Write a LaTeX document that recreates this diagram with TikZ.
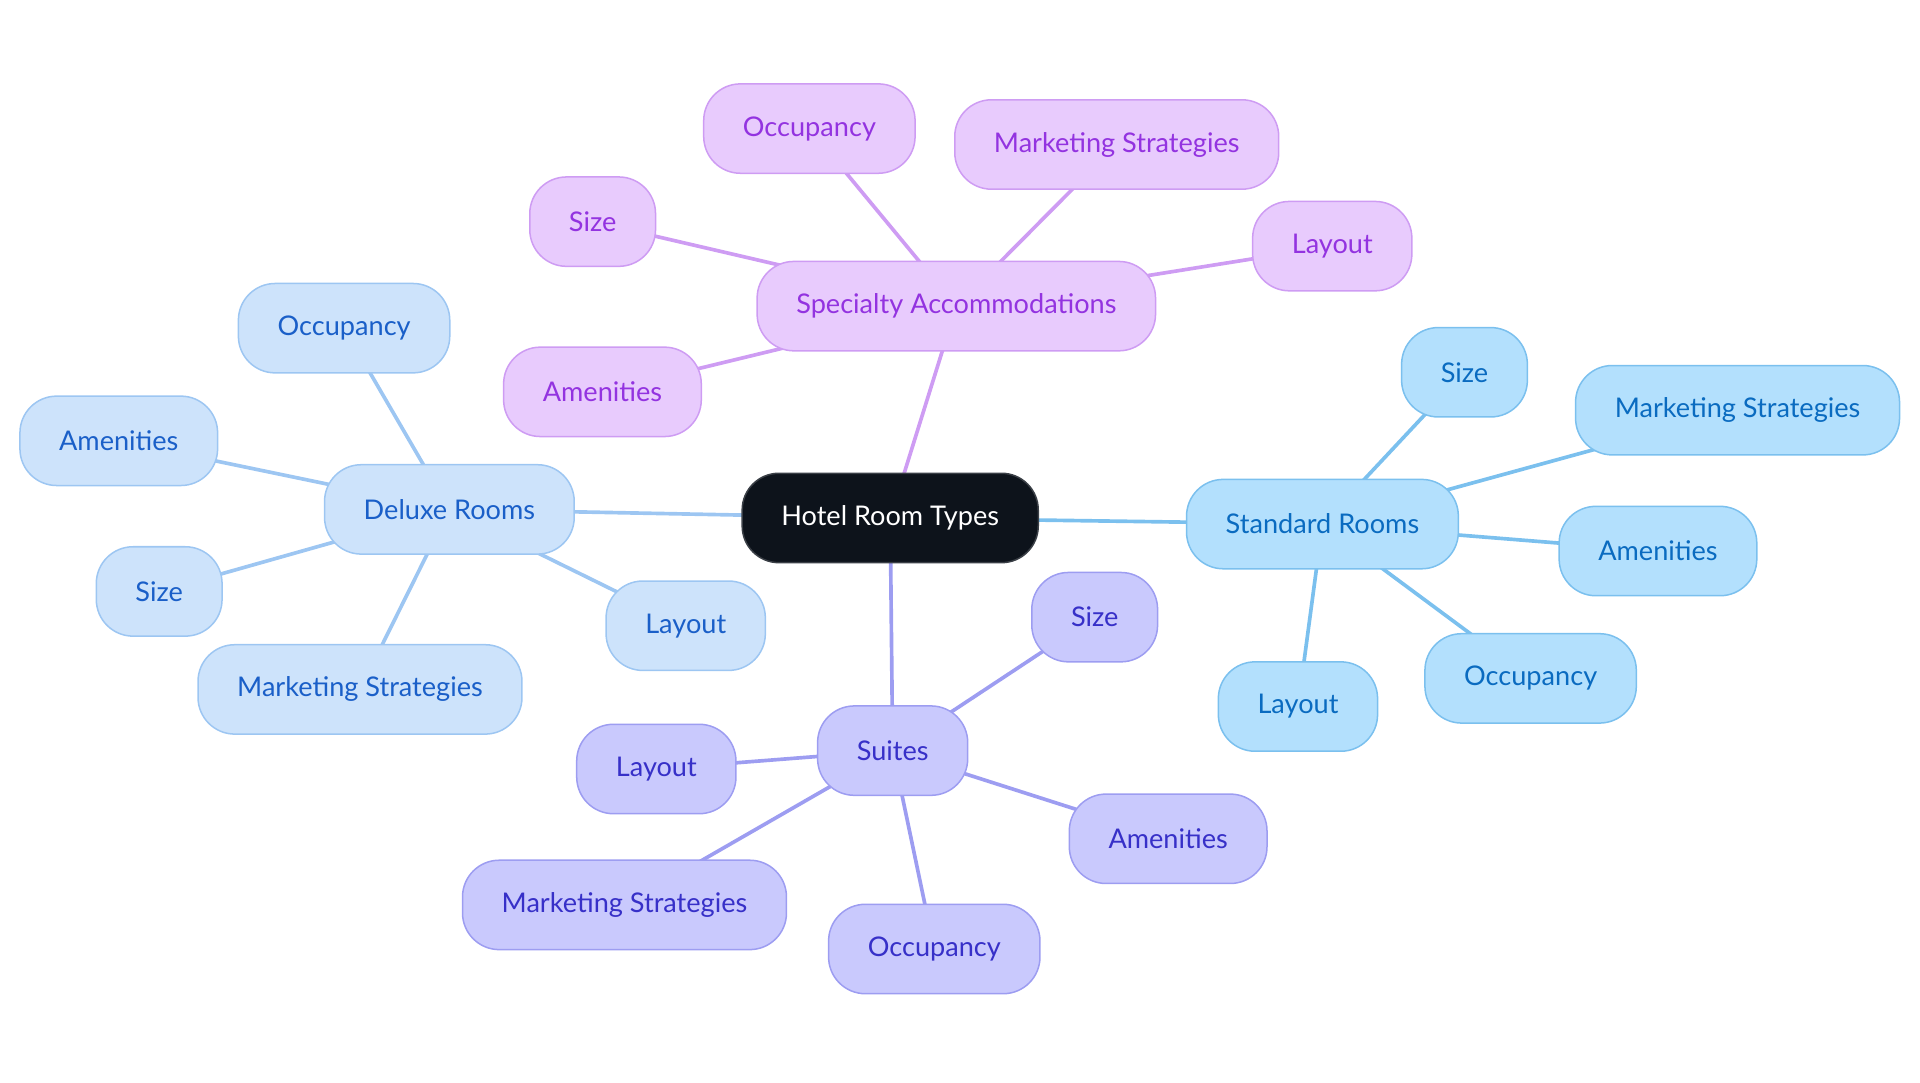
\documentclass[tikz,border=0pt]{standalone}
\usepackage{fontspec}
\setmainfont{Lato}
\usetikzlibrary{positioning}

\pgfdeclarelayer{back}
\pgfsetlayers{back,main}

\definecolor{rootFill}{HTML}{0D131B}
\definecolor{rootLine}{HTML}{3A3F46}
\definecolor{spcFill}{HTML}{E8CBFD}
\definecolor{spcLine}{HTML}{CE9CF3}
\definecolor{spcText}{HTML}{9333E0}
\definecolor{dlxFill}{HTML}{CDE3FB}
\definecolor{dlxLine}{HTML}{9DC6F2}
\definecolor{dlxText}{HTML}{1A5FC8}
\definecolor{stdFill}{HTML}{B3E0FD}
\definecolor{stdLine}{HTML}{7BC0EE}
\definecolor{stdText}{HTML}{0A6BC0}
\definecolor{steFill}{HTML}{C9C9FD}
\definecolor{steLine}{HTML}{9D9DF1}
\definecolor{steText}{HTML}{3730C8}

\tikzset{
  topic/.style={draw, rounded corners=6mm, minimum height=14.6mm, inner xsep=6.4mm,
    line width=0.7pt, font=\fontsize{12.6}{15}\selectfont},
  rootbox/.style={topic, fill=rootFill, draw=rootLine, text=white},
  spcbox/.style={topic, fill=spcFill, draw=spcLine, text=spcText},
  dlxbox/.style={topic, fill=dlxFill, draw=dlxLine, text=dlxText},
  stdbox/.style={topic, fill=stdFill, draw=stdLine, text=stdText},
  stebox/.style={topic, fill=steFill, draw=steLine, text=steText},
  spclink/.style={draw=spcLine, line width=1.7pt},
  dlxlink/.style={draw=dlxLine, line width=1.7pt},
  stdlink/.style={draw=stdLine, line width=1.7pt},
  stelink/.style={draw=steLine, line width=1.7pt},
}

\begin{document}
\begin{tikzpicture}[x=0.2mm, y=-0.2mm]
	%%%%% FRAME %%%%%
	\useasboundingbox (0, 0) rectangle (1568, 884);

	%%%%% NODES %%%%%
	\node[rootbox] (hotel) at (727, 423) {Hotel Room Types};

	\node[spcbox] (spc) at (781, 250) {Specialty Accommodations};
	\node[spcbox] (spcocc) at (661, 105) {Occupancy};
	\node[spcbox] (spcmkt) at (912, 118) {Marketing Strategies};
	\node[spcbox] (spcsize) at (484, 181) {Size};
	\node[spcbox] (spclay) at (1088, 201) {Layout};
	\node[spcbox] (spcame) at (492, 320) {Amenities};

	\node[dlxbox] (dlx) at (367, 416) {Deluxe Rooms};
	\node[dlxbox] (dlxocc) at (281, 268) {Occupancy};
	\node[dlxbox] (dlxame) at (97, 360) {Amenities};
	\node[dlxbox] (dlxsize) at (130, 483) {Size};
	\node[dlxbox] (dlxmkt) at (294, 563) {Marketing Strategies};
	\node[dlxbox] (dlxlay) at (560, 511) {Layout};

	\node[stdbox] (std) at (1080, 428) {Standard Rooms};
	\node[stdbox] (stdsize) at (1196, 304) {Size};
	\node[stdbox] (stdmkt) at (1419, 335) {Marketing Strategies};
	\node[stdbox] (stdame) at (1354, 450) {Amenities};
	\node[stdbox] (stdocc) at (1250, 554) {Occupancy};
	\node[stdbox] (stdlay) at (1060, 577) {Layout};

	\node[stebox] (ste) at (729, 613) {Suites};
	\node[stebox] (stesize) at (894, 504) {Size};
	\node[stebox] (stelay) at (536, 628) {Layout};
	\node[stebox] (steame) at (954, 685) {Amenities};
	\node[stebox] (stemkt) at (510, 739) {Marketing Strategies};
	\node[stebox] (steocc) at (763, 775) {Occupancy};

	%%%%% LINKS %%%%%
	\begin{pgfonlayer}{back}
	\draw[spclink] (hotel.center) -- (spc.center);
	\draw[spclink] (spc.center) -- (spcocc.center);
	\draw[spclink] (spc.center) -- (spcmkt.center);
	\draw[spclink] (spc.center) -- (spcsize.center);
	\draw[spclink] (spc.center) -- (spclay.center);
	\draw[spclink] (spc.center) -- (spcame.center);

	\draw[dlxlink] (hotel.center) -- (dlx.center);
	\draw[dlxlink] (dlx.center) -- (dlxocc.center);
	\draw[dlxlink] (dlx.center) -- (dlxame.center);
	\draw[dlxlink] (dlx.center) -- (dlxsize.center);
	\draw[dlxlink] (dlx.center) -- (dlxmkt.center);
	\draw[dlxlink] (dlx.center) -- (dlxlay.center);

	\draw[stdlink] (hotel.center) -- (std.center);
	\draw[stdlink] (std.center) -- (stdsize.center);
	\draw[stdlink] (std.center) -- (stdmkt.center);
	\draw[stdlink] (std.center) -- (stdame.center);
	\draw[stdlink] (std.center) -- (stdocc.center);
	\draw[stdlink] (std.center) -- (stdlay.center);

	\draw[stelink] (hotel.center) -- (ste.center);
	\draw[stelink] (ste.center) -- (stesize.center);
	\draw[stelink] (ste.center) -- (stelay.center);
	\draw[stelink] (ste.center) -- (steame.center);
	\draw[stelink] (ste.center) -- (stemkt.center);
	\draw[stelink] (ste.center) -- (steocc.center);
	\end{pgfonlayer}
\end{tikzpicture}
\end{document}
